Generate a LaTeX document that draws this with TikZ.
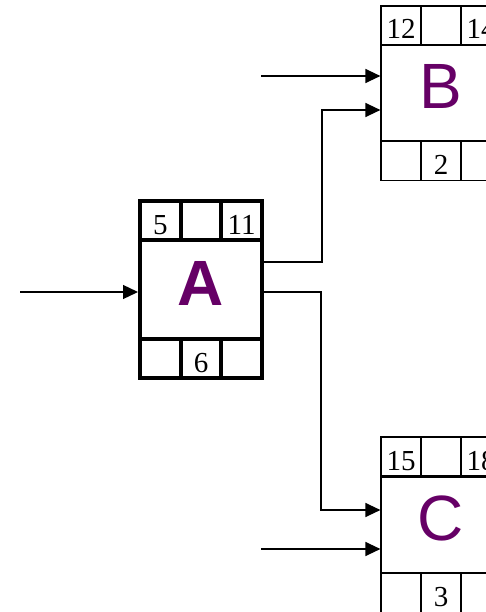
\documentclass[tikz,border=0pt]{standalone}
\usepackage{fontspec}
\setmainfont{Liberation Serif}
\newfontfamily\lsans{Liberation Sans}
\usetikzlibrary{arrows.meta}
\definecolor{lbl}{RGB}{102,0,102}
\newcommand{\numfont}{\fontsize{29}{29}\selectfont}
\begin{document}
\begin{tikzpicture}[x=1pt,y=-1pt,
  cellbase/.style={draw, inner sep=0pt, minimum height=39pt, font=\numfont, text height=27pt, text depth=0pt},
  cellA/.style={cellbase, line width=4pt, minimum width=40.67pt},
  cellB/.style={cellbase, line width=1.2pt, minimum width=40pt},
  bigA/.style={draw, line width=4pt, inner sep=0pt, minimum width=122pt, minimum height=99pt,
    font=\lsans\bfseries\fontsize{64}{64}\selectfont, text=lbl, text height=46pt, text depth=14pt},
  bigB/.style={draw, line width=1.2pt, inner sep=0pt, minimum width=120pt, minimum height=96pt,
    font=\lsans\fontsize{64}{64}\selectfont, text=lbl, text height=46pt, text depth=15pt},
  arr/.style={line width=1.3pt, -{Triangle[length=15pt,width=14pt]}}]
\useasboundingbox (0,0) rectangle (486,612);
\clip (0,0) rectangle (486,612);
% Box A
\node[bigA] (A) at (201,289.5) {A};
\node[cellA] (A1) at (160.3,220.5) {5};
\node[cellA] (A2) at (201,220.5) {};
\node[cellA] (A3) at (241.7,220.5) {11};
\node[cellA] (A4) at (160.3,358.5) {};
\node[cellA] (A5) at (201,358.5) {6};
\node[cellA] (A6) at (241.7,358.5) {};
% Box B
\node[bigB] (B) at (441,93) {B};
\node[cellB] (B1) at (401,25.5) {12};
\node[cellB] (B2) at (441,25.5) {};
\node[cellB] (B3) at (481,25.5) {14};
\node[cellB] (B4) at (401,161) {};
\node[cellB] (B5) at (441,161) {2};
\node[cellB] (B6) at (481,161) {};
% Box C
\node[bigB] (C) at (441,525) {C};
\node[cellB] (C1) at (401,456.5) {15};
\node[cellB] (C2) at (441,456.5) {};
\node[cellB] (C3) at (481,456.5) {18};
\node[cellB] (C4) at (401,593) {};
\node[cellB] (C5) at (441,593) {3};
\node[cellB] (C6) at (481,593) {};
% connectors
\coordinate (inA) at (20,292);
\coordinate (inB) at (261,76);
\coordinate (inC) at (261,549);
\coordinate (kB1) at (322,262);
\coordinate (kB2) at (322,110);
\coordinate (kC1) at (321,292);
\coordinate (kC2) at (321,510);
\draw[arr] (inA) -- (inA -| A.west);
\draw[arr] (inB) -- (inB -| B.west);
\draw[arr] (inC) -- (inC -| C.west);
\draw[arr] (kB1 -| A.east) -- (kB1) -- (kB2) -- (kB2 -| B.west);
\draw[arr] (kC1 -| A.east) -- (kC1) -- (kC2) -- (kC2 -| C.west);
\end{tikzpicture}
\end{document}
